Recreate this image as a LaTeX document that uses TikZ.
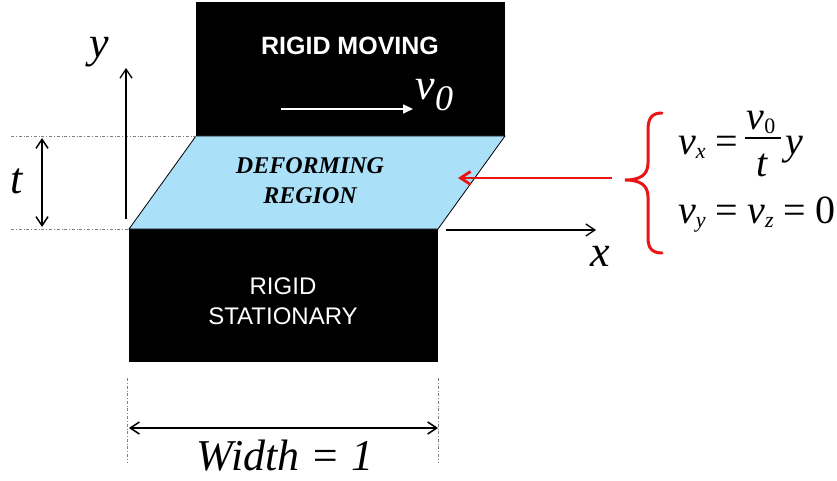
\documentclass[tikz,border=0pt]{standalone}
\usepackage{fontspec}
\setmainfont{Liberation Serif}
\setsansfont{Liberation Sans}
\usetikzlibrary{arrows.meta}
\definecolor{lightblue}{RGB}{170,224,248}
\definecolor{redline}{RGB}{235,20,20}
\newcommand{\lsb}[1]{\raisebox{-4pt}{\fontsize{22}{22}\selectfont #1}}
\newcommand{\eqsign}{\hspace{9.5pt}=\hspace{9.5pt}}
\begin{document}
\begin{tikzpicture}[x=1pt,y=-1pt,
  block/.style={fill=black,draw=none},
  guide/.style={draw=gray,line width=0.6pt,dash dot},
  axis/.style={draw=black,line width=1.3pt,-{Straight Barb[length=9pt,width=12pt]}},
  dim/.style={draw=black,line width=1.5pt,{Straight Barb[length=9pt,width=12pt]}-{Straight Barb[length=9pt,width=12pt]}},
  bigit/.style={font=\fontsize{44}{48}\selectfont\itshape},
  eq/.style={font=\fontsize{40}{44}\selectfont, anchor=base west, inner sep=0pt},
  eqc/.style={font=\fontsize{40}{44}\selectfont, anchor=base, inner sep=0pt}]
\useasboundingbox (0,0) rectangle (837,481);
% blocks
\fill[block] (196,2) rectangle (505,136);
\fill[block] (129,229) rectangle (438,362);
\draw[fill=lightblue,draw=black,line width=0.8pt] (196,136) -- (505,136) -- (438,229) -- (129,229) -- cycle;
% guide lines
\coordinate (g1a) at (11,136); \coordinate (g1b) at (196,136);
\coordinate (g2a) at (11,229); \coordinate (g2b) at (129,229);
\draw[guide] (g1a) -- (g1b);
\draw[guide] (g2a) -- (g2b);
\coordinate (w1a) at (127,378); \coordinate (w1b) at (127,462);
\coordinate (w2a) at (438,378); \coordinate (w2b) at (438,462);
\draw[guide] (w1a) -- (w1b);
\draw[guide] (w2a) -- (w2b);
% texts
\node[text=white,font=\sffamily\bfseries\fontsize{25}{28}\selectfont] (rm) at (350,46) {RIGID MOVING};
\node[text=white,font=\sffamily\fontsize{24}{30}\selectfont,align=center] (rs) at (283,301) {RIGID\\STATIONARY};
\node[font=\bfseries\itshape\fontsize{24}{30}\selectfont,align=center] (dr) at (310,181) {DEFORMING\\REGION};
% v0 arrow
\coordinate (v0a) at (281,109); \coordinate (v0b) at (413,109);
\draw[white,line width=1.6pt,-{Triangle[length=10pt,width=9pt]}] (v0a) -- (v0b);
\node[text=white,bigit,anchor=west] (v0) at (412,95) {v\raisebox{-0.25em}{\fontsize{36}{40}\selectfont 0}};
% y axis
\coordinate (ya) at (126,219); \coordinate (yb) at (126,68);
\draw[axis] (ya) -- (yb);
\node[bigit] (ylab) at (99,52) {y};
% x axis
\coordinate (xa) at (446,230); \coordinate (xb) at (596,230);
\draw[axis] (xa) -- (xb);
\node[bigit] (xlab) at (600,256) {x};
% t dimension
\coordinate (ta) at (42,138); \coordinate (tb) at (42,227);
\draw[dim] (ta) -- (tb);
\node[bigit] (tlab) at (17,181) {t};
% width dimension
\coordinate (wa) at (129,428); \coordinate (wb) at (438,428);
\draw[dim] (wa) -- (wb);
\node[bigit] (wlab) at (285,456) {Width = 1};
% red arrow
\coordinate (ra) at (612,178); \coordinate (rb) at (458,178);
\draw[redline,line width=2.8pt,-{Straight Barb[length=10pt,width=13pt]}] (ra) -- (rb);
% brace
\draw[redline,line width=3pt,line cap=round]
  (662,113) .. controls (652,113) and (648,118) .. (648,130) -- (648,163)
  .. controls (648,175) and (640,180) .. (625,180)
  .. controls (640,180) and (648,185) .. (648,197) -- (648,238)
  .. controls (648,248) and (652,253) .. (662,253);
% equations
\node[eq] (e1) at (678,155) {\textit{v}\lsb{\textit{x}}\eqsign};
\coordinate (bara) at (745,138); \coordinate (barb) at (781,138);
\draw[line width=1.5pt] (bara) -- (barb);
\node[eqc] (num) at (761,130) {\textit{v}\lsb{0}};
\node[eqc] (den) at (762,176) {\textit{t}};
\node[eq] (e1y) at (785,155) {\textit{y}};
\node[eq] (e2) at (678,223) {\textit{v}\lsb{\textit{y}}\eqsign\textit{v}\lsb{\textit{z}}\eqsign 0};
\end{tikzpicture}
\end{document}
